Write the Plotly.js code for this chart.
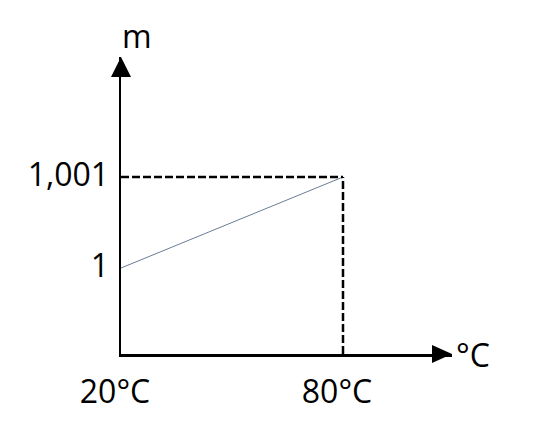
<!DOCTYPE html>
<html>
<head>
<meta charset="utf-8">
<script src="https://cdn.plot.ly/plotly-3.0.1.min.js"></script>
<style>html,body{margin:0;padding:0;background:#fff;}#chart{width:542px;height:433px;}</style>
</head>
<body>
<div id="chart"></div>
<script>
// Data
var temperatures = [20, 80];
var masses = [1, 1.001];
var xTickText = ['20°C', '80°C'];
var yTickText = ['1', '1,001'];
var xAxisLabel = '°C';
var yAxisLabel = 'm';

// Layout geometry (pixels)
var W = 542, H = 433;
var plotLeft = 121, plotRight = 452, plotTop = 57, plotBottom = 354;
var pxX80 = 343, pxY1 = 268, pxY1001 = 177;

var xScale = (pxX80 - plotLeft) / (temperatures[1] - temperatures[0]);
var xMax = temperatures[0] + (plotRight - plotLeft) / xScale;
var yScale = (pxY1 - pxY1001) / (masses[1] - masses[0]);
var yMin = masses[0] - (plotBottom - pxY1) / yScale;
var yMax = masses[1] + (pxY1001 - plotTop) / yScale;

var font = {family: 'Open Sans, sans-serif', size: 32, color: '#000'};

var traces = [{
  x: temperatures,
  y: masses,
  type: 'scatter',
  mode: 'lines',
  line: {color: '#6b7c96', width: 1},
  hoverinfo: 'skip',
  cliponaxis: false
}];

var dash = {color: '#000', width: 2.5, dash: '8px,3px'};

var layout = {
  width: W, height: H,
  margin: {l: plotLeft, r: W - plotRight, t: plotTop, b: H - plotBottom, pad: 0},
  paper_bgcolor: '#fff', plot_bgcolor: '#fff',
  showlegend: false,
  font: font,
  xaxis: {
    range: [temperatures[0], xMax],
    showgrid: false, zeroline: false,
    showline: true, linecolor: '#000', linewidth: 2.5,
    ticks: '',
    tickvals: temperatures, ticktext: xTickText,
    tickfont: font,
    ticklabelshift: -6,
    ticklabelstandoff: 8,
    fixedrange: true
  },
  yaxis: {
    range: [yMin, yMax],
    showgrid: false, zeroline: false,
    showline: true, linecolor: '#000', linewidth: 2.5,
    ticks: '',
    tickvals: masses, ticktext: yTickText,
    tickfont: font,
    ticklabelstandoff: 3,
    ticklabelshift: -2,
    fixedrange: true
  },
  shapes: [
    {type: 'line', xref: 'x', yref: 'y', x0: temperatures[0], x1: temperatures[1], y0: masses[1], y1: masses[1], line: dash},
    {type: 'line', xref: 'x', yref: 'y', x0: temperatures[1], x1: temperatures[1], y0: yMin, y1: masses[1], line: dash},
    {type: 'path', xref: 'paper', yref: 'paper', xsizemode: 'pixel', ysizemode: 'pixel',
     xanchor: 1, yanchor: 0, path: 'M0,0 L-20,9 L-20,-9 Z',
     fillcolor: '#000', line: {width: 0}},
    {type: 'path', xref: 'paper', yref: 'paper', xsizemode: 'pixel', ysizemode: 'pixel',
     xanchor: 0, yanchor: 1, path: 'M0,0 L-10,-20 L10,-20 Z',
     fillcolor: '#000', line: {width: 0}}
  ],
  annotations: [
    {text: yAxisLabel, xref: 'x', yref: 'y', x: temperatures[0], y: yMax, xshift: 16, yshift: 22,
     showarrow: false, font: font, xanchor: 'center', yanchor: 'middle'},
    {text: xAxisLabel, xref: 'x', yref: 'y', x: xMax, y: yMin, xshift: 21, yshift: 0,
     showarrow: false, font: font, xanchor: 'center', yanchor: 'middle'}
  ]
};

Plotly.newPlot('chart', traces, layout, {staticPlot: true, displayModeBar: false});
</script>
</body>
</html>
